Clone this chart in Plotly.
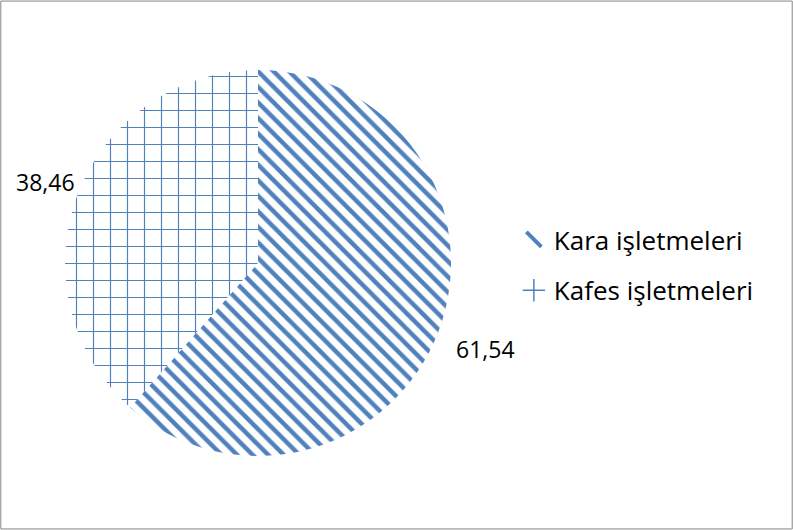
import math
import plotly.graph_objects as go

labels = ["Kara işletmeleri", "Kafes işletmeleri"]
values = [61.54, 38.46]
shapes = ["\\", "+"]
legend_symbols = ["line-nw", "cross-thin"]
blue = "#4F81BD"

W, H = 793, 530
cx, cy, R = 258, 263, 193  # pie centre / radius in pixels (layout)
label_dist = [1.26, 1.18]  # radial distance factor for each data label

fig = go.Figure(go.Pie(
    labels=labels,
    values=values,
    sort=False,
    direction="clockwise",
    rotation=0,
    textinfo="none",
    hoverinfo="label+value",
    marker=dict(
        colors=[blue, blue],
        line=dict(width=0),
        pattern=dict(shape=shapes, fgcolor=blue, bgcolor="#FFFFFF", fgopacity=1,
                     size=[11, 17], solidity=[0.4, 0.13], fillmode="replace"),
    ),
    domain=dict(x=[(cx - R) / W, (cx + R) / W], y=[1 - (cy + R) / H, 1 - (cy - R) / H]),
    showlegend=False,
))

# legend entries (one per category, no data points)
for lab, sym, lw, sz in zip(labels, legend_symbols, [4, 1.5], [15, 18]):
    fig.add_trace(go.Scatter(
        x=[None], y=[None], mode="markers", name=lab, legendgroup=lab,
        marker=dict(symbol=sym, size=sz, color=blue, line=dict(color=blue, width=lw)),
    ))

# data labels placed at the middle angle of each slice (computed from the values)
total = sum(values)
annotations = []
start = 0.0
for v, k in zip(values, label_dist):
    mid = (start + v / 2) / total * 2 * math.pi
    start += v
    x = cx + k * R * math.sin(mid)
    y = cy - k * R * math.cos(mid)
    annotations.append(dict(
        x=x / W, y=1 - y / H, xref="paper", yref="paper",
        text=f"{v:.2f}".replace(".", ","), showarrow=False,
        font=dict(family="Open Sans", size=23, color="#000000"),
        xanchor="center", yanchor="middle",
    ))

fig.update_layout(
    width=W, height=H,
    margin=dict(l=0, r=0, t=0, b=0, autoexpand=False),
    paper_bgcolor="white",
    plot_bgcolor="white",
    separators=",.",
    xaxis=dict(visible=False),
    yaxis=dict(visible=False),
    legend=dict(x=0.648, y=0.5, xanchor="left", yanchor="middle",
                font=dict(family="Open Sans", size=26, color="#000000"),
                tracegroupgap=14, itemwidth=30),
    annotations=annotations,
    shapes=[dict(type="rect", xref="paper", yref="paper", x0=0.001, y0=0.002, x1=0.999, y1=0.998,
                 line=dict(color="#868686", width=1))],
)

fig.write_html("out.html")
